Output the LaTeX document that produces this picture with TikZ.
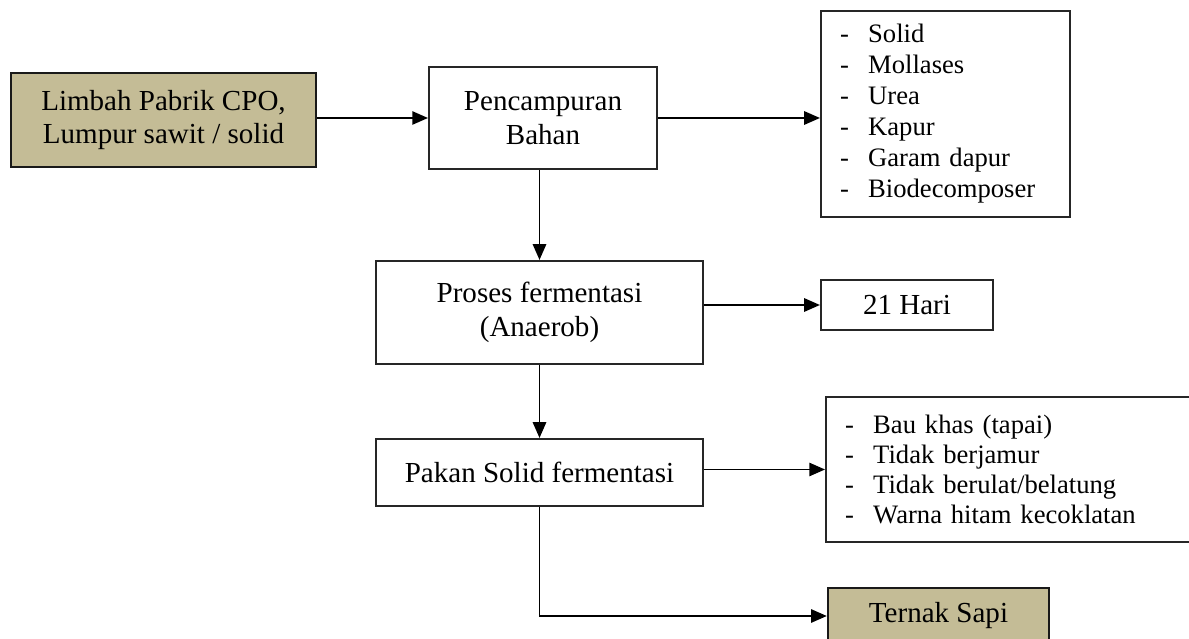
\documentclass[tikz,border=0pt]{standalone}
\usepackage{fontspec}
\setmainfont{Liberation Serif}
\usetikzlibrary{arrows.meta}
\definecolor{khaki}{HTML}{C4BC96}
\newcommand{\dashitem}[1]{\makebox[11.6pt][l]{-}#1}

\begin{document}
\begin{tikzpicture}[
    x=0.4132pt, y=-0.4132pt,
    box/.style={draw=black!85, line width=0.85pt, align=center, inner sep=2pt,
      font=\fontsize{12}{13.8}\selectfont},
    inputbox/.style={box, fill=khaki, draw=black!90, line width=1pt},
    listbox/.style={draw=black!85, line width=0.85pt, align=left, inner xsep=7.9pt,
      inner ysep=0pt},
    flow/.style={-{Triangle[length=6.5pt,width=5.5pt]}, line width=0.75pt}
  ]
  \useasboundingbox (0,0) rectangle (1189,639);
  \clip (0,0) rectangle (1189,639);

  % main column
  \node[inputbox, minimum width=126pt, minimum height=38.8pt] (limbah) at (163.5,120)
    {Limbah Pabrik CPO,\\ Lumpur sawit / solid};
  \node[box, minimum width=94.2pt, minimum height=42.1pt] (campur) at (543,118)
    {Pencampuran\\ Bahan};
  \node[box, minimum width=135.1pt, minimum height=42.6pt] (proses) at (539.5,312.5)
    {Proses fermentasi\\ (Anaerob)};
  \node[box, minimum width=135.1pt, minimum height=27.7pt] (pakan) at (539.5,472.5)
    {Pakan Solid fermentasi};

  % right column
  \node[listbox, minimum width=102.9pt, minimum height=85.1pt, text width=87.1pt,
    font=\fontsize{11}{12.8}\selectfont] (bahan) at (945.5,114)
    {\dashitem{Solid}\\ \dashitem{Mollases}\\ \dashitem{Urea}\\
     \dashitem{Kapur}\\ \dashitem{Garam dapur}\\ \dashitem{Biodecomposer}};
  \node[box, minimum width=71.1pt, minimum height=20.7pt] (hari) at (907,305) {21 Hari};
  \node[listbox, minimum width=154.5pt, minimum height=59.9pt, text width=138.7pt,
    font=\fontsize{11}{12.4}\selectfont] (ciri) at (1013,469.5)
    {\dashitem{Bau khas (tapai)}\\ \dashitem{Tidak berjamur}\\
     \dashitem{Tidak berulat/belatung}\\ \dashitem{Warna hitam kecoklatan}};
  \node[inputbox, minimum width=91.3pt, minimum height=23.1pt] (sapi) at (938.5,616)
    {Ternak Sapi};

  % connectors
  \draw[flow] (limbah.east |- campur.west) -- (campur.west);
  \draw[flow] (campur.east) -- (campur.east -| bahan.west);
  \draw[flow] (campur.south -| proses.north) -- (proses.north);
  \draw[flow] (proses.east |- hari.west) -- (hari.west);
  \draw[flow] (proses.south) -- (pakan.north);
  \draw[flow] (pakan.east |- ciri.west) -- (ciri.west);
  \draw[flow] (pakan.south) |- (sapi.west);
\end{tikzpicture}
\end{document}
